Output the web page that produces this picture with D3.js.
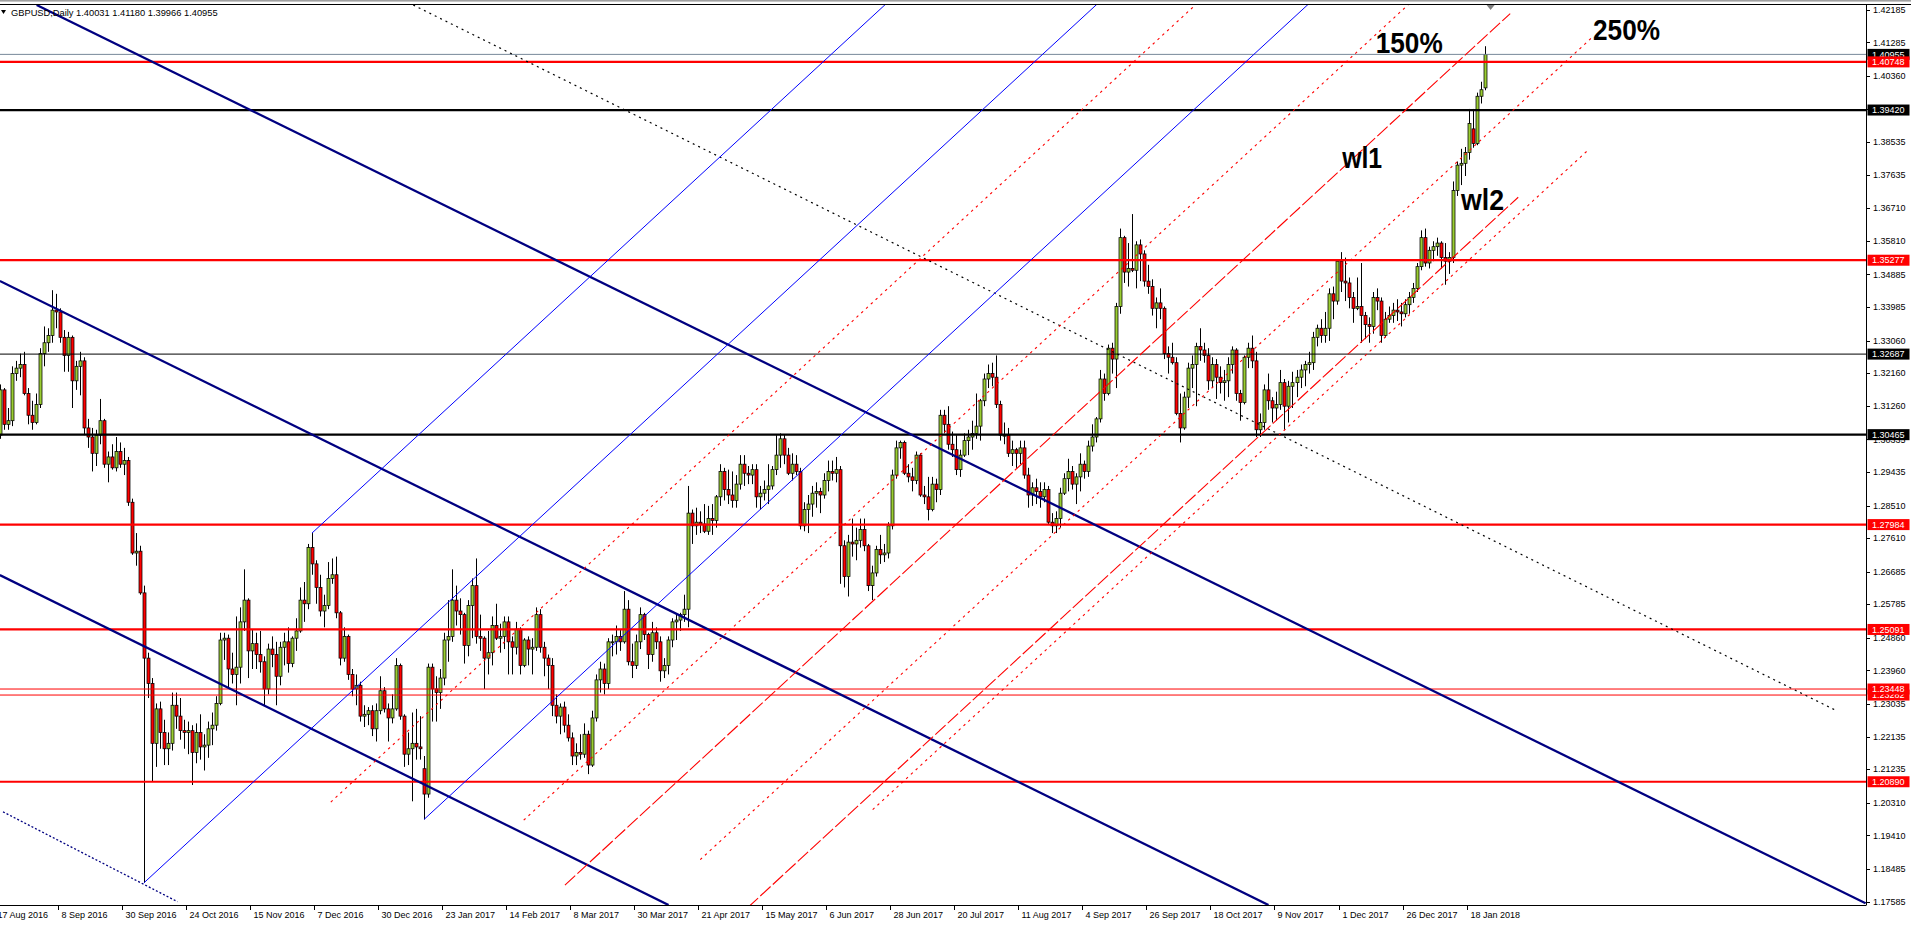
<!DOCTYPE html>
<html><head><meta charset="utf-8"><title>GBPUSD Daily</title>
<script src="https://cdn.jsdelivr.net/npm/d3@7/dist/d3.min.js"></script>
<style>html,body{margin:0;padding:0;background:#fff;overflow:hidden;}svg{display:block;}</style>
</head><body>
<svg id="chart" width="1911" height="925"></svg>
<script>
const symbol = "GBPUSD,Daily";
// daily bars, bar 0 = 17 Aug 2016 ... bar 372 = 24 Jan 2018
const opens = [
1.3030,1.3045,1.3170,1.3075,1.3085,1.3215,1.3230,1.3240,1.3160,1.3100,
1.3080,1.3130,1.3270,1.3300,1.3320,1.3390,1.3385,1.3315,1.3265,1.3315,
1.3195,1.3235,1.3250,1.3065,1.3040,1.2995,1.3045,1.3085,1.2965,1.2985,
1.2955,1.3000,1.2965,1.2975,1.2860,1.2720,1.2725,1.2610,1.2430,1.2360,
1.2195,1.2290,1.2225,1.2180,1.2195,1.2300,1.2270,1.2230,1.2225,1.2230,
1.2170,1.2225,1.2185,1.2190,1.2235,1.2245,1.2305,1.2480,1.2485,1.2400,
1.2385,1.2405,1.2530,1.2590,1.2450,1.2470,1.2440,1.2420,1.2345,1.2455,
1.2440,1.2380,1.2460,1.2475,1.2415,1.2485,1.2505,1.2590,1.2580,1.2735,
1.2690,1.2625,1.2560,1.2575,1.2650,1.2660,1.2555,1.2430,1.2490,1.2385,
1.2345,1.2355,1.2270,1.2275,1.2285,1.2235,1.2285,1.2340,1.2290,1.2265,
1.2290,1.2410,1.2270,1.2165,1.2180,1.2195,1.2185,1.2125,1.2055,1.2405,
1.2345,1.2335,1.2375,1.2480,1.2490,1.2590,1.2560,1.2550,1.2465,1.2575,
1.2630,1.2490,1.2485,1.2430,1.2445,1.2520,1.2485,1.2490,1.2530,1.2475,
1.2460,1.2510,1.2410,1.2480,1.2455,1.2460,1.2550,1.2460,1.2430,1.2410,
1.2300,1.2270,1.2295,1.2245,1.2210,1.2160,1.2170,1.2165,1.2220,1.2135,
1.2265,1.2370,1.2400,1.2360,1.2475,1.2475,1.2490,1.2475,1.2565,1.2420,
1.2410,1.2475,1.2550,1.2495,1.2440,1.2500,1.2475,1.2395,1.2410,1.2480,
1.2530,1.2535,1.2550,1.2565,1.2830,1.2795,1.2805,1.2800,1.2780,1.2815,
1.2810,1.2875,1.2945,1.2895,1.2880,1.2865,1.2910,1.2965,1.2940,1.2935,
1.2950,1.2875,1.2885,1.2895,1.2905,1.2950,1.2990,1.3035,1.2990,1.2940,
1.2965,1.2945,1.2795,1.2840,1.2855,1.2885,1.2890,1.2880,1.2920,1.2945,
1.2940,1.2950,1.2740,1.2655,1.2750,1.2745,1.2755,1.2785,1.2740,1.2630,
1.2665,1.2730,1.2715,1.2720,1.2795,1.2935,1.3010,1.3025,1.2940,1.2930,
1.2920,1.2990,1.2880,1.2875,1.2840,1.2910,1.2895,1.3100,1.3075,1.3020,
1.3005,1.2950,1.2990,1.3030,1.3040,1.3050,1.3070,1.3140,1.3200,1.3215,
1.3205,1.3130,1.3045,1.3045,1.2995,1.3005,1.2995,1.3010,1.2935,1.2880,
1.2900,1.2890,1.2875,1.2895,1.2805,1.2795,1.2815,1.2885,1.2925,1.2945,
1.2910,1.2930,1.2965,1.2945,1.3015,1.3040,1.3090,1.3200,1.3160,1.3285,
1.3255,1.3400,1.3590,1.3495,1.3505,1.3500,1.3570,1.3545,1.3470,1.3455,
1.3395,1.3410,1.3395,1.3270,1.3260,1.3245,1.3105,1.3065,1.3150,1.3230,
1.3240,1.3290,1.3280,1.3265,1.3195,1.3240,1.3205,1.3190,1.3195,1.3240,
1.3280,1.3160,1.3135,1.3260,1.3285,1.3250,1.3060,1.3080,1.3170,1.3140,
1.3120,1.3130,1.3190,1.3125,1.3180,1.3190,1.3205,1.3225,1.3240,1.3245,
1.3315,1.3340,1.3320,1.3340,1.3435,1.3415,1.3525,1.3470,1.3465,1.3425,
1.3395,1.3400,1.3375,1.3350,1.3345,1.3425,1.3415,1.3320,1.3365,1.3375,
1.3390,1.3385,1.3380,1.3405,1.3425,1.3450,1.3510,1.3590,1.3520,1.3555,
1.3565,1.3575,1.3535,1.3525,1.3535,1.3720,1.3790,1.3795,1.3825,1.3890,
1.3850,1.3980,1.40031];
const highs = [
1.3060,1.3185,1.3175,1.3120,1.3235,1.3250,1.3270,1.3275,1.3175,1.3140,
1.3160,1.3285,1.3345,1.3340,1.3445,1.3435,1.3395,1.3335,1.3330,1.3320,
1.3250,1.3275,1.3260,1.3090,1.3065,1.3060,1.3145,1.3090,1.3000,1.3020,
1.3040,1.3025,1.3010,1.2985,1.2870,1.2775,1.2740,1.2630,1.2445,1.2375,
1.2305,1.2310,1.2260,1.2225,1.2335,1.2335,1.2320,1.2260,1.2255,1.2245,
1.2250,1.2275,1.2220,1.2255,1.2280,1.2325,1.2500,1.2500,1.2495,1.2445,
1.2545,1.2570,1.2675,1.2595,1.2510,1.2500,1.2505,1.2435,1.2470,1.2490,
1.2475,1.2475,1.2500,1.2515,1.2490,1.2540,1.2625,1.2640,1.2745,1.2775,
1.2700,1.2660,1.2605,1.2695,1.2705,1.2710,1.2560,1.2515,1.2495,1.2400,
1.2385,1.2365,1.2300,1.2295,1.2300,1.2305,1.2380,1.2350,1.2305,1.2330,
1.2430,1.2415,1.2275,1.2225,1.2280,1.2290,1.2270,1.2160,1.2415,1.2415,
1.2380,1.2400,1.2500,1.2590,1.2675,1.2630,1.2595,1.2555,1.2590,1.2650,
1.2705,1.2550,1.2490,1.2505,1.2545,1.2580,1.2525,1.2545,1.2545,1.2490,
1.2530,1.2515,1.2485,1.2490,1.2485,1.2570,1.2565,1.2475,1.2440,1.2430,
1.2330,1.2305,1.2310,1.2275,1.2225,1.2195,1.2220,1.2250,1.2230,1.2285,
1.2385,1.2420,1.2415,1.2485,1.2495,1.2520,1.2510,1.2615,1.2590,1.2470,
1.2495,1.2570,1.2555,1.2500,1.2530,1.2515,1.2490,1.2430,1.2490,1.2540,
1.2550,1.2555,1.2605,1.2905,1.2840,1.2845,1.2835,1.2855,1.2850,1.2855,
1.2880,1.2965,1.2955,1.2950,1.2945,1.2935,1.2990,1.2990,1.2960,1.2965,
1.2965,1.2905,1.2920,1.2965,1.2960,1.3045,1.3050,1.3045,1.3010,1.2995,
1.2990,1.2955,1.2860,1.2880,1.2905,1.2915,1.2900,1.2940,1.2975,1.2975,
1.2985,1.2960,1.2755,1.2770,1.2815,1.2790,1.2815,1.2815,1.2745,1.2685,
1.2740,1.2770,1.2745,1.2805,1.2950,1.3030,1.3030,1.3030,1.2965,1.2955,
1.3000,1.2995,1.2905,1.2930,1.2930,1.2925,1.3115,1.3115,1.3125,1.3055,
1.3045,1.3005,1.3050,1.3060,1.3085,1.3160,1.3145,1.3215,1.3240,1.3245,
1.3265,1.3140,1.3080,1.3065,1.3030,1.3010,1.3030,1.3030,1.2955,1.2915,
1.2925,1.2915,1.2915,1.2905,1.2830,1.2835,1.2900,1.2940,1.2980,1.2960,
1.2940,1.2995,1.2975,1.3030,1.3075,1.3095,1.3225,1.3215,1.3295,1.3300,
1.3410,1.3615,1.3595,1.3575,1.3655,1.3580,1.3585,1.3555,1.3515,1.3475,
1.3425,1.3450,1.3400,1.3290,1.3300,1.3260,1.3160,1.3165,1.3245,1.3265,
1.3300,1.3340,1.3300,1.3285,1.3260,1.3255,1.3235,1.3225,1.3260,1.3290,
1.3285,1.3170,1.3265,1.3300,1.3320,1.3275,1.3105,1.3185,1.3215,1.3150,
1.3165,1.3225,1.3200,1.3195,1.3220,1.3225,1.3240,1.3250,1.3275,1.3330,
1.3350,1.3365,1.3385,1.3450,1.3455,1.3530,1.3550,1.3535,1.3480,1.3440,
1.3480,1.3520,1.3385,1.3370,1.3440,1.3450,1.3425,1.3385,1.3400,1.3410,
1.3420,1.3410,1.3420,1.3440,1.3465,1.3520,1.3610,1.3615,1.3565,1.3580,
1.3590,1.3580,1.3575,1.3550,1.3745,1.3800,1.3835,1.3840,1.3945,1.3945,
1.3990,1.4020,1.41180];
const lows = [
1.2985,1.3035,1.3060,1.3060,1.3070,1.3195,1.3205,1.3155,1.3075,1.3060,
1.3075,1.3120,1.3235,1.3275,1.3300,1.3340,1.3300,1.3220,1.3220,1.3120,
1.3170,1.3155,1.3045,1.3010,1.2945,1.2960,1.3020,1.2955,1.2915,1.2950,
1.2945,1.2955,1.2935,1.2850,1.2715,1.2685,1.2605,1.1810,1.2320,1.2090,
1.2130,1.2180,1.2135,1.2135,1.2175,1.2235,1.2205,1.2180,1.2165,1.2080,
1.2140,1.2150,1.2120,1.2155,1.2190,1.2230,1.2300,1.2425,1.2350,1.2360,
1.2300,1.2360,1.2505,1.2375,1.2400,1.2400,1.2390,1.2300,1.2330,1.2405,
1.2300,1.2355,1.2410,1.2390,1.2405,1.2450,1.2500,1.2530,1.2565,1.2660,
1.2580,1.2545,1.2515,1.2565,1.2635,1.2540,1.2410,1.2420,1.2370,1.2325,
1.2300,1.2255,1.2240,1.2245,1.2215,1.2200,1.2275,1.2280,1.2200,1.2250,
1.2285,1.2260,1.2130,1.2135,1.2035,1.2150,1.2150,1.1985,1.2045,1.2255,
1.2255,1.2290,1.2355,1.2420,1.2475,1.2520,1.2495,1.2415,1.2435,1.2485,
1.2470,1.2450,1.2345,1.2385,1.2410,1.2480,1.2445,1.2455,1.2385,1.2385,
1.2440,1.2385,1.2405,1.2410,1.2385,1.2450,1.2445,1.2380,1.2345,1.2270,
1.2250,1.2220,1.2225,1.2200,1.2135,1.2135,1.2150,1.2155,1.2110,1.2130,
1.2255,1.2335,1.2330,1.2345,1.2435,1.2440,1.2450,1.2470,1.2410,1.2375,
1.2400,1.2455,1.2480,1.2400,1.2420,1.2455,1.2365,1.2375,1.2385,1.2460,
1.2480,1.2505,1.2530,1.2515,1.2745,1.2770,1.2775,1.2775,1.2770,1.2770,
1.2790,1.2850,1.2865,1.2855,1.2845,1.2845,1.2895,1.2905,1.2910,1.2910,
1.2845,1.2840,1.2865,1.2855,1.2895,1.2935,1.2955,1.2965,1.2935,1.2920,
1.2935,1.2785,1.2780,1.2775,1.2820,1.2845,1.2830,1.2870,1.2890,1.2920,
1.2915,1.2635,1.2625,1.2600,1.2710,1.2700,1.2735,1.2725,1.2615,1.2590,
1.2655,1.2690,1.2695,1.2705,1.2785,1.2925,1.2980,1.2935,1.2915,1.2890,
1.2910,1.2875,1.2855,1.2810,1.2835,1.2860,1.2880,1.3050,1.3005,1.2985,
1.2935,1.2930,1.2985,1.2990,1.3005,1.3035,1.3030,1.3125,1.3175,1.3180,
1.3120,1.3030,1.3020,1.2985,1.2960,1.2955,1.2965,1.2925,1.2845,1.2850,
1.2855,1.2845,1.2860,1.2800,1.2775,1.2775,1.2790,1.2880,1.2890,1.2895,
1.2855,1.2890,1.2925,1.2930,1.3000,1.3025,1.3080,1.3140,1.3155,1.3215,
1.3175,1.3380,1.3465,1.3455,1.3495,1.3450,1.3470,1.3455,1.3435,1.3375,
1.3340,1.3365,1.3255,1.3215,1.3240,1.3100,1.3025,1.3060,1.3120,1.3175,
1.3125,1.3250,1.3245,1.3170,1.3175,1.3145,1.3160,1.3140,1.3150,1.3215,
1.3140,1.3085,1.3130,1.3230,1.3230,1.3040,1.3040,1.3060,1.3115,1.3080,
1.3085,1.3115,1.3060,1.3080,1.3120,1.3150,1.3175,1.3180,1.3215,1.3225,
1.3290,1.3300,1.3300,1.3305,1.3365,1.3405,1.3440,1.3415,1.3395,1.3355,
1.3390,1.3300,1.3310,1.3300,1.3325,1.3390,1.3300,1.3315,1.3355,1.3355,
1.3360,1.3345,1.3370,1.3380,1.3410,1.3440,1.3500,1.3510,1.3505,1.3525,
1.3540,1.3505,1.3460,1.3490,1.3520,1.3705,1.3735,1.3760,1.3805,1.3838,
1.3845,1.3960,1.39966];
const closes = [
1.3045,1.3170,1.3075,1.3085,1.3215,1.3230,1.3240,1.3160,1.3100,1.3080,
1.3130,1.3270,1.3300,1.3320,1.3390,1.3385,1.3315,1.3265,1.3315,1.3195,
1.3235,1.3250,1.3065,1.3040,1.2995,1.3045,1.3085,1.2965,1.2985,1.2955,
1.3000,1.2965,1.2975,1.2860,1.2720,1.2725,1.2610,1.2430,1.2360,1.2195,
1.2290,1.2225,1.2180,1.2195,1.2300,1.2270,1.2230,1.2225,1.2230,1.2170,
1.2225,1.2185,1.2190,1.2235,1.2245,1.2305,1.2480,1.2485,1.2400,1.2385,
1.2405,1.2530,1.2590,1.2450,1.2470,1.2440,1.2420,1.2345,1.2455,1.2440,
1.2380,1.2460,1.2475,1.2415,1.2485,1.2505,1.2590,1.2580,1.2735,1.2690,
1.2625,1.2560,1.2575,1.2650,1.2660,1.2555,1.2430,1.2490,1.2385,1.2345,
1.2355,1.2270,1.2275,1.2285,1.2235,1.2285,1.2340,1.2290,1.2265,1.2290,
1.2410,1.2270,1.2165,1.2180,1.2195,1.2185,1.2180,1.2055,1.2405,1.2345,
1.2335,1.2375,1.2480,1.2490,1.2590,1.2560,1.2550,1.2465,1.2575,1.2630,
1.2490,1.2485,1.2430,1.2445,1.2520,1.2485,1.2490,1.2530,1.2475,1.2460,
1.2510,1.2410,1.2480,1.2455,1.2460,1.2550,1.2460,1.2430,1.2410,1.2300,
1.2270,1.2295,1.2245,1.2210,1.2160,1.2170,1.2165,1.2220,1.2135,1.2265,
1.2370,1.2400,1.2360,1.2475,1.2475,1.2490,1.2475,1.2565,1.2420,1.2410,
1.2475,1.2550,1.2495,1.2440,1.2500,1.2475,1.2395,1.2410,1.2480,1.2530,
1.2535,1.2550,1.2565,1.2830,1.2795,1.2805,1.2800,1.2780,1.2815,1.2810,
1.2875,1.2945,1.2895,1.2880,1.2865,1.2910,1.2965,1.2940,1.2935,1.2950,
1.2875,1.2885,1.2895,1.2905,1.2950,1.2990,1.3035,1.2990,1.2940,1.2965,
1.2945,1.2795,1.2840,1.2855,1.2885,1.2890,1.2880,1.2920,1.2945,1.2940,
1.2950,1.2740,1.2655,1.2750,1.2745,1.2755,1.2785,1.2740,1.2630,1.2665,
1.2730,1.2715,1.2720,1.2795,1.2935,1.3010,1.3025,1.2940,1.2930,1.2920,
1.2990,1.2880,1.2875,1.2840,1.2910,1.2895,1.3100,1.3075,1.3020,1.3005,
1.2950,1.2990,1.3030,1.3040,1.3050,1.3070,1.3140,1.3200,1.3215,1.3205,
1.3130,1.3045,1.3045,1.2995,1.3005,1.2995,1.3010,1.2935,1.2880,1.2900,
1.2890,1.2875,1.2895,1.2805,1.2795,1.2815,1.2885,1.2925,1.2945,1.2910,
1.2930,1.2965,1.2945,1.3015,1.3040,1.3090,1.3200,1.3160,1.3285,1.3255,
1.3400,1.3590,1.3495,1.3505,1.3500,1.3570,1.3545,1.3470,1.3455,1.3395,
1.3410,1.3395,1.3270,1.3260,1.3245,1.3105,1.3065,1.3150,1.3230,1.3240,
1.3290,1.3280,1.3265,1.3195,1.3240,1.3205,1.3190,1.3195,1.3240,1.3280,
1.3160,1.3135,1.3260,1.3285,1.3250,1.3060,1.3080,1.3170,1.3140,1.3120,
1.3130,1.3190,1.3125,1.3180,1.3190,1.3205,1.3225,1.3240,1.3245,1.3315,
1.3340,1.3320,1.3340,1.3435,1.3415,1.3525,1.3470,1.3465,1.3425,1.3395,
1.3400,1.3375,1.3350,1.3345,1.3425,1.3415,1.3320,1.3365,1.3375,1.3390,
1.3385,1.3380,1.3405,1.3425,1.3450,1.3510,1.3590,1.3520,1.3555,1.3565,
1.3575,1.3535,1.3525,1.3535,1.3720,1.3790,1.3795,1.3825,1.3905,1.3850,
1.3980,1.3998,1.40955];

// time axis labels: one every 16 bars starting at bar 0
const dateLabels = ["17 Aug 2016","8 Sep 2016","30 Sep 2016","24 Oct 2016","15 Nov 2016","7 Dec 2016",
"30 Dec 2016","23 Jan 2017","14 Feb 2017","8 Mar 2017","30 Mar 2017","21 Apr 2017","15 May 2017",
"6 Jun 2017","28 Jun 2017","20 Jul 2017","11 Aug 2017","4 Sep 2017","26 Sep 2017","18 Oct 2017",
"9 Nov 2017","1 Dec 2017","26 Dec 2017","18 Jan 2018"];
const labelStep = 16;
const priceTicks = [1.42185,1.41285,1.40360,1.39435,1.38535,1.37635,1.36710,1.35810,1.34885,1.33985,
1.33060,1.32160,1.31260,1.30335,1.29435,1.28510,1.27610,1.26685,1.25785,1.24860,1.23960,1.23035,
1.22135,1.21235,1.20310,1.19410,1.18485,1.17585];

// horizontal levels
const redLevels = [1.40748,1.35277,1.27984,1.25091,1.20890];
const thinRedLevels = [1.23282,1.23448];
const blackLevels = [1.39420,1.30465];
const thinBlackLevels = [1.32687];

// Andrews pitchfork anchors (bar indices): low, high, low
const pitchforkBars = [37, 79, 107];
// parallel pitchfork warning lines: [start bar, start price, end bar]
const redDotLines = [[83.7,1.2033,430],[131.9,1.1983,430],[176.0,1.1874,398.8],[219.1,1.2012,397.6]];
const redDashLines = [[142.2,1.1804,378.4],[187.9,1.1742,380.4]];
// trend lines: [bar1, price1, bar2, price2]
const navyLines = [[10.2,1.42317,467.2,1.17537],[1.0,1.34704,318.0,1.17489],[1.0,1.26593,168.1,1.17489]];
const navyDotLines = [[1.8,1.2006,45.4,1.1758]];
const blackDotLines = [[104.3,1.42317,459.6,1.22869]];
// text notes: [text, bar, price]
const notes = [["150%",344.8,1.40993],["250%",399.1,1.41352],["wl1",336.4,1.37821],["wl2",366.1,1.36662]];

// ---------------- drawing ----------------
const W = 1911, H = 925, R = 1866, T = 4.5, B = 905;
const FONT = '"Liberation Sans", Arial, sans-serif';
const svg = d3.select('#chart');
const xs = d3.scaleLinear().domain([37, 372]).range([143.9, 1484.6]);
const ys = d3.scaleLinear().domain([1.17585, 1.42185]).range([901.55, 9.8]);

svg.append('rect').attr('width', W).attr('height', H).attr('fill', '#fff');
svg.append('rect').attr('x', 0).attr('y', 0).attr('width', W).attr('height', 1.6).attr('fill', '#a0a0a0');
svg.append('defs').append('clipPath').attr('id', 'plot')
  .append('rect').attr('x', 0).attr('y', T).attr('width', R).attr('height', B - T);

const plot = svg.append('g').attr('clip-path', 'url(#plot)');

// candles
const bars = closes.map((c, i) => ({ i, o: opens[i], h: highs[i], l: lows[i], c }));
const cg = plot.append('g');
cg.selectAll('line').data(bars).join('line')
  .attr('x1', d => Math.round(xs(d.i)) + 0.5).attr('x2', d => Math.round(xs(d.i)) + 0.5)
  .attr('y1', d => ys(d.h)).attr('y2', d => ys(d.l))
  .attr('stroke', '#000').attr('stroke-width', 1);
cg.selectAll('rect').data(bars).join('rect')
  .attr('x', d => Math.round(xs(d.i)) - 1)
  .attr('y', d => ys(Math.max(d.o, d.c)))
  .attr('width', 3)
  .attr('height', d => Math.max(1, ys(Math.min(d.o, d.c)) - ys(Math.max(d.o, d.c))))
  .attr('fill', d => d.c >= d.o ? '#9acd32' : '#ff0000')
  .attr('stroke', '#000').attr('stroke-width', 0.75);

// horizontal levels
function hline(p, color, w) {
  plot.append('line').attr('x1', 0).attr('x2', R).attr('y1', ys(p)).attr('y2', ys(p))
    .attr('stroke', color).attr('stroke-width', w);
}
const lastPrice = closes[closes.length - 1];
hline(lastPrice, '#778899', 1);
redLevels.forEach(p => hline(p, '#ff0000', 2.2));
thinRedLevels.forEach(p => hline(p, '#ff0000', 1));
blackLevels.forEach(p => hline(p, '#000', 2.2));
thinBlackLevels.forEach(p => hline(p, '#000', 1));

// generic segment
function seg(i1, p1, i2, p2, color, w, dash) {
  const l = plot.append('line').attr('x1', xs(i1)).attr('y1', ys(p1)).attr('x2', xs(i2)).attr('y2', ys(p2))
    .attr('stroke', color).attr('stroke-width', w).attr('fill', 'none');
  if (dash) l.attr('stroke-dasharray', dash);
}

// navy channel
navyLines.forEach(d => seg(d[0], d[1], d[2], d[3], '#000080', 2.3));
navyDotLines.forEach(d => seg(d[0], d[1], d[2], d[3], '#000080', 1.3, '2,2'));
blackDotLines.forEach(d => seg(d[0], d[1], d[2], d[3], '#000', 1.2, '2,4'));

// blue Andrews pitchfork
const [ia, ib, ic] = pitchforkBars;
const pa = lows[ia], pb = highs[ib], pc = lows[ic];
const im = (ib + ic) / 2, pm = (pb + pc) / 2;
const slope = (pm - pa) / (im - ia);
const farBar = 460;
seg(ia, pa, farBar, pa + slope * (farBar - ia), '#0000ff', 1);
seg(ib, pb, farBar, pb + slope * (farBar - ib), '#0000ff', 1);
seg(ic, pc, farBar, pc + slope * (farBar - ic), '#0000ff', 1);

// red parallel lines (same slope)
redDotLines.forEach(d => seg(d[0], d[1], d[2], d[1] + slope * (d[2] - d[0]), '#ff0000', 1.1, '2.5,4'));
redDashLines.forEach(d => seg(d[0], d[1], d[2], d[1] + slope * (d[2] - d[0]), '#ff0000', 1.1, '14,3'));

// notes
const noteLen = { "150%": 67, "250%": 67, "wl1": 40, "wl2": 43 };
notes.forEach(n => {
  svg.append('text').attr('x', xs(n[1])).attr('y', ys(n[2]))
    .attr('font-family', FONT).attr('font-weight', 'bold').attr('font-size', 29)
    .attr('textLength', noteLen[n[0]]).attr('lengthAdjust', 'spacingAndGlyphs')
    .attr('fill', '#000').text(n[0]);
});

// shift marker
svg.append('path').attr('d', `M${xs(372) + 2},5 L${xs(372) + 10},5 L${xs(372) + 6},10 Z`).attr('fill', '#808080');

// frame
svg.append('line').attr('x1', 0).attr('x2', W).attr('y1', T).attr('y2', T).attr('stroke', '#000').attr('stroke-width', 1);
svg.append('line').attr('x1', R + 0.5).attr('x2', R + 0.5).attr('y1', T).attr('y2', B).attr('stroke', '#000').attr('stroke-width', 1);
svg.append('line').attr('x1', 0).attr('x2', R + 0.5).attr('y1', B + 0.5).attr('y2', B + 0.5).attr('stroke', '#000').attr('stroke-width', 1);

// price axis ticks & labels
const ax = svg.append('g');
priceTicks.forEach(p => {
  ax.append('line').attr('x1', R).attr('x2', R + 4).attr('y1', Math.round(ys(p)) + 0.5).attr('y2', Math.round(ys(p)) + 0.5)
    .attr('stroke', '#000').attr('stroke-width', 1);
  ax.append('text').attr('x', R + 7).attr('y', ys(p)).attr('dy', '0.35em')
    .attr('font-family', FONT).attr('font-size', 9).attr('fill', '#000').text(p.toFixed(5));
});

// value boxes on the price axis
function box(p, color) {
  const y = ys(p);
  ax.append('rect').attr('x', R + 1.5).attr('y', y - 5.5).attr('width', 42).attr('height', 11).attr('fill', color);
  ax.append('text').attr('x', R + 6).attr('y', y).attr('dy', '0.35em')
    .attr('font-family', FONT).attr('font-size', 9).attr('fill', '#fff').text(p.toFixed(5));
}
box(lastPrice, '#000');
redLevels.forEach(p => box(p, '#ff0000'));
thinRedLevels.forEach(p => box(p, '#ff0000'));
blackLevels.forEach(p => box(p, '#000'));
thinBlackLevels.forEach(p => box(p, '#000'));

// time axis
dateLabels.forEach((t, k) => {
  const x = Math.round(xs(k * labelStep) - 2) + 0.5;
  ax.append('line').attr('x1', x).attr('x2', x).attr('y1', B).attr('y2', B + 5).attr('stroke', '#000').attr('stroke-width', 1);
  ax.append('text').attr('x', x + 3).attr('y', B + 13).attr('font-family', FONT).attr('font-size', 9).attr('fill', '#000').text(t);
});

// header
svg.append('path').attr('d', 'M1,10 L6,10 L3.5,14 Z').attr('fill', '#000');
svg.append('text').attr('x', 11).attr('y', 16).attr('font-family', FONT).attr('font-size', 9.3).attr('fill', '#000')
  .text(`${symbol}  ${opens[372].toFixed(5)} ${highs[372].toFixed(5)} ${lows[372].toFixed(5)} ${closes[372].toFixed(5)}`);
</script>
</body></html>
